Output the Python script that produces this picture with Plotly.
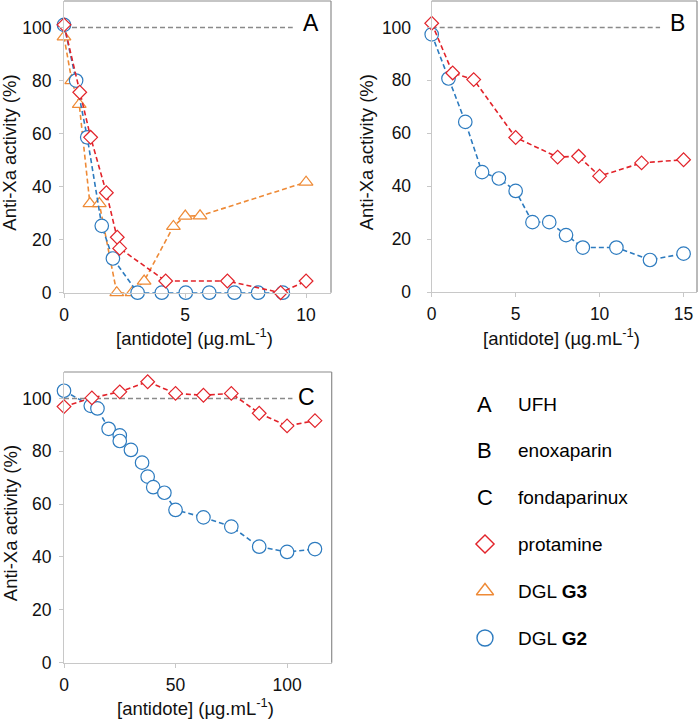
import plotly.graph_objects as go

# ---------------- data ----------------
# Panel A (UFH)
a_prot_x = [0, 0.65, 1.1, 1.75, 2.2, 2.3, 4.2, 6.75, 8.95, 10]
a_prot_y = [101, 75.6, 58.6, 37.7, 20.9, 16.7, 4.4, 4.4, 0, 4.4]
a_g3_x = [0, 0.32, 0.63, 1.07, 1.46, 2.18, 2.81, 3.31, 4.52, 5.01, 5.62, 10]
a_g3_y = [96.5, 80, 71, 33.6, 33.6, 0, 0, 4.4, 25, 28.9, 29, 41.7]
a_g2_x = [0, 0.5, 0.96, 1.56, 2.02, 3.04, 4.04, 5.03, 6.0, 7.04, 8.02, 9.04]
a_g2_y = [101, 80, 58.6, 25.2, 12.9, 0, 0, 0, 0, 0, 0, 0]

# Panel B (enoxaparin)
b_prot_x = [0, 1.25, 2.5, 5, 7.5, 8.75, 10, 12.5, 15]
b_prot_y = [101.6, 82.8, 80.3, 58.4, 51, 51.3, 43.8, 48.8, 50]
b_g2_x = [0, 1, 2, 3, 4, 5, 6, 7, 8, 9, 11, 13, 15]
b_g2_y = [97.4, 80.7, 64.3, 45.3, 42.9, 38.2, 26.4, 26.4, 21.5, 16.8, 16.8, 12.1, 14.5]

# Panel C (fondaparinux)
c_prot_x = [0, 12.5, 25, 37.5, 50, 62.5, 75, 87.5, 100, 112.5]
c_prot_y = [96.9, 100.2, 102.5, 106.3, 101.9, 101.2, 101.9, 94.4, 89.6, 91.6]
c_g2_x = [0, 12, 15, 20, 25, 25, 30, 35, 37.5, 40, 45, 50, 62.5, 75, 87.5, 100, 112.5]
c_g2_y = [102.9, 97.2, 96.2, 88.5, 86, 83.9, 80.5, 75.7, 70.4, 66.4, 64.3, 57.8, 55, 51.5, 43.9, 41.9, 43]

# 100 % reference line (start, end) per panel
ref_level = 100
ref_a_x = [0, 9.45]
ref_b_x = [0, 13.6]
ref_c_x = [0, 102.4]

panel_letters = ["A", "B", "C"]
legend_letters = ["A", "B", "C"]
legend_letter_names = ["UFH", "enoxaparin", "fondaparinux"]
legend_series = ["protamine", "DGL <b>G3</b>", "DGL <b>G2</b>"]

y_ticks = [0, 20, 40, 60, 80, 100]
a_xticks = [0, 5, 10]
b_xticks = [0, 5, 10, 15]
c_xticks = [0, 50, 100]

xtitle = "[antidote] (µg.mL<sup>-1</sup>)"
ytitle = "Anti-Xa activity (%)"

# ---------------- style ----------------
RED = "#E2232A"
ORANGE = "#EE8A36"
BLUE = "#2D7BBF"
GREY = "#8A8A8A"
FONT = "Liberation Sans, Arial, sans-serif"
DASH = "5px,3px"
W, H = 700, 719

styles = {
    "prot": dict(color=RED, symbol="diamond", size=10.5),
    "g3": dict(color=ORANGE, symbol="triangle-up", size=12),
    "g2": dict(color=BLUE, symbol="circle", size=13.5),
}

fig = go.Figure()


def add_series(x, y, key, xa, ya):
    s = styles[key]
    fig.add_trace(go.Scatter(
        x=x, y=y, mode="lines+markers", xaxis=xa, yaxis=ya,
        line=dict(color=s["color"], width=1.6, dash=DASH),
        marker=dict(symbol=s["symbol"], size=s["size"], color="white",
                    line=dict(color=s["color"], width=1.2)),
        cliponaxis=False, showlegend=False, hoverinfo="skip"))


def add_ref(xr, xa, ya):
    fig.add_trace(go.Scatter(
        x=xr, y=[ref_level, ref_level], mode="lines", xaxis=xa, yaxis=ya,
        line=dict(color=GREY, width=1.4, dash=DASH),
        showlegend=False, hoverinfo="skip"))


# Panel A
add_ref(ref_a_x, "x", "y")
add_series(a_g3_x, a_g3_y, "g3", "x", "y")
add_series(a_g2_x, a_g2_y, "g2", "x", "y")
add_series(a_prot_x, a_prot_y, "prot", "x", "y")
# Panel B
add_ref(ref_b_x, "x2", "y2")
add_series(b_g2_x, b_g2_y, "g2", "x2", "y2")
add_series(b_prot_x, b_prot_y, "prot", "x2", "y2")
# Panel C
add_ref(ref_c_x, "x3", "y3")
add_series(c_g2_x, c_g2_y, "g2", "x3", "y3")
add_series(c_prot_x, c_prot_y, "prot", "x3", "y3")

# ---------------- legend panel (hidden axes) ----------------
rows_px = [404, 450, 497, 544, 591, 638]
leg_left_px = 470
leg_top_px, leg_bot_px = 380, 660
leg_y = [(leg_bot_px - p) / (leg_bot_px - leg_top_px) for p in rows_px]
leg_marker_x = (485 - leg_left_px) / (W - leg_left_px)
leg_text_x = (516 - leg_left_px) / (W - leg_left_px)

legend_marker_styles = [
    dict(color=RED, symbol="diamond", size=14),
    dict(color=ORANGE, symbol="triangle-up", size=15),
    dict(color=BLUE, symbol="circle", size=16),
]
for i, ms in enumerate(legend_marker_styles):
    fig.add_trace(go.Scatter(
        x=[leg_marker_x], y=[leg_y[3 + i]], mode="markers", xaxis="x4", yaxis="y4",
        marker=dict(symbol=ms["symbol"], size=ms["size"], color="white",
                    line=dict(color=ms["color"], width=1.4)),
        showlegend=False, hoverinfo="skip", cliponaxis=False))

annotations = []
for i, (let, name) in enumerate(zip(legend_letters, legend_letter_names)):
    annotations.append(dict(x=leg_marker_x, y=leg_y[i], xref="x4", yref="y4",
                            text=let, showarrow=False, xanchor="center", yanchor="middle",
                            font=dict(family=FONT, size=22, color="black")))
    annotations.append(dict(x=leg_text_x, y=leg_y[i], xref="x4", yref="y4",
                            text=name, showarrow=False, xanchor="left", yanchor="middle",
                            font=dict(family=FONT, size=19, color="black")))
for i, name in enumerate(legend_series):
    annotations.append(dict(x=leg_text_x, y=leg_y[3 + i], xref="x4", yref="y4",
                            text=name, showarrow=False, xanchor="left", yanchor="middle",
                            font=dict(family=FONT, size=19, color="black")))

# panel letters
letter_pos = [("x domain", "y domain", 0.963, 0.925),
              ("x2 domain", "y2 domain", 0.963, 0.925),
              ("x3 domain", "y3 domain", 0.946, 0.914)]
for let, (xr, yr, px, py) in zip(panel_letters, letter_pos):
    annotations.append(dict(x=px, y=py, xref=xr, yref=yr, text=let, showarrow=False,
                            xanchor="right", yanchor="middle",
                            font=dict(family=FONT, size=23, color="black")))

# axis titles as annotations (pixel placement)
titlefont = dict(family=FONT, size=18.5, color="#111111")
for xr, ypx in [("x domain", 337), ("x2 domain", 337), ("x3 domain", 707)]:
    annotations.append(dict(x=0.49, y=1 - ypx / H, xref=xr, yref="paper", text=xtitle,
                            showarrow=False, xanchor="center", yanchor="middle",
                            font=titlefont))
for yr, xpx, yd in [("y domain", 10, 0.48), ("y2 domain", 366, 0.48), ("y3 domain", 10, 0.48)]:
    annotations.append(dict(x=xpx / W, y=yd, xref="paper", yref=yr, text=ytitle,
                            showarrow=False, xanchor="center", yanchor="middle",
                            textangle=-90, font=titlefont))

# top/right frame lines (darker than left/bottom axes)
shapes = []
for xr, yr in [("x domain", "y domain"), ("x2 domain", "y2 domain"), ("x3 domain", "y3 domain")]:
    shapes.append(dict(type="line", xref=xr, yref=yr, x0=0, x1=1, y0=1, y1=1,
                       line=dict(color="#8C8C8C", width=1.2)))
    shapes.append(dict(type="line", xref=xr, yref=yr, x0=1, x1=1, y0=0, y1=1,
                       line=dict(color="#8C8C8C", width=1.2)))

tickfont = dict(family=FONT, size=17.5, color="#111111")


def xax(domain, rng, ticks, anchor):
    return dict(domain=domain, range=rng, tickvals=ticks, anchor=anchor,
                showline=True, linecolor="#C8C8C8", linewidth=1.2,
                ticks="outside", ticklen=4, tickcolor="#C8C8C8",
                showgrid=False, zeroline=False, tickfont=tickfont,
                automargin=False, ticklabelstandoff=2)


def yax(domain, anchor, standoff):
    return dict(domain=domain, range=[0, 110], tickvals=y_ticks, anchor=anchor,
                showline=True, linecolor="#C8C8C8", linewidth=1.2,
                ticks="outside", ticklen=4, tickcolor="#C8C8C8",
                showgrid=False, zeroline=False, tickfont=tickfont,
                automargin=False, ticklabelstandoff=standoff)


fig.update_layout(
    width=W, height=H,
    margin=dict(l=0, r=0, t=0, b=0, autoexpand=False),
    paper_bgcolor="white", plot_bgcolor="white",
    font=dict(family=FONT),
    xaxis=xax([64 / W, 331 / W], [0, 11.03], a_xticks, "y"),
    yaxis=yax([1 - 292.7 / H, 1 - 1 / H], "x", 4),
    xaxis2=xax([431.7 / W, 697 / W], [0, 15.8], b_xticks, "y2"),
    yaxis2=yax([1 - 292 / H, 1 - 1 / H], "x2", 12),
    xaxis3=xax([64 / W, 331.7 / W], [0, 120], c_xticks, "y3"),
    yaxis3=yax([1 - 662.7 / H, 1 - 372 / H], "x3", 4),
    xaxis4=dict(domain=[leg_left_px / W, 1.0], range=[0, 1], visible=False, anchor="y4"),
    yaxis4=dict(domain=[1 - leg_bot_px / H, 1 - leg_top_px / H], range=[0, 1],
                visible=False, anchor="x4"),
    annotations=annotations,
    shapes=shapes,
    showlegend=False,
)

fig.write_html("out.html",
               config={"displayModeBar": False},
               post_script="document.body.style.margin='0';document.body.style.padding='0';")
